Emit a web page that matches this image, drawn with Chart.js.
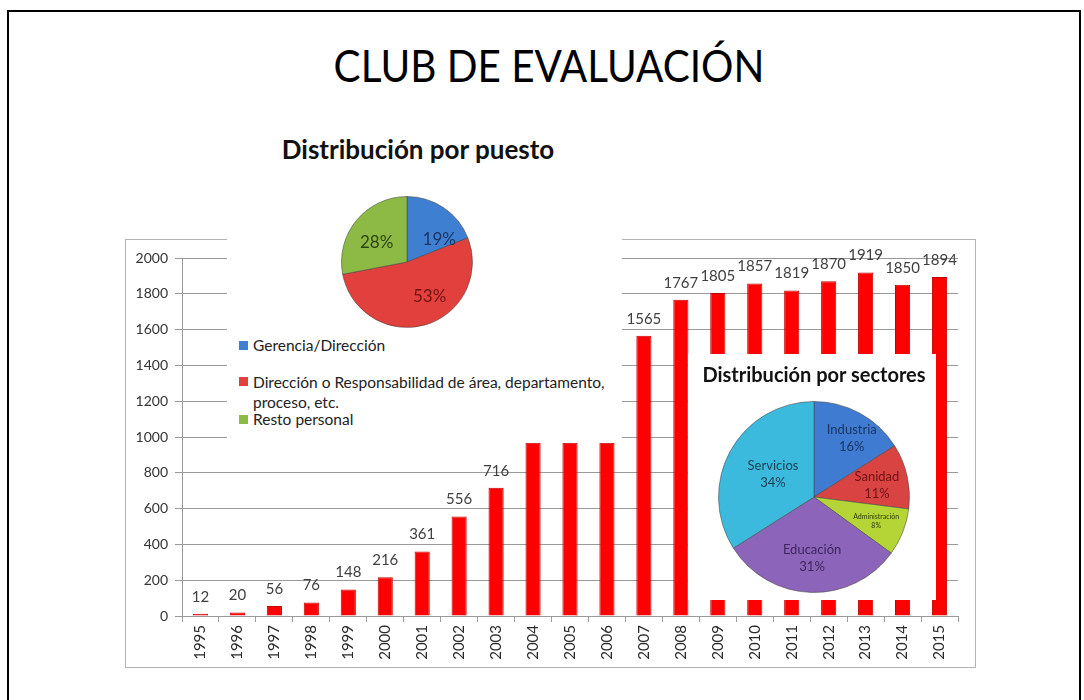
<!DOCTYPE html>
<html>
<head>
<meta charset="utf-8">
<title>Club de Evaluación</title>
<script src="https://cdn.jsdelivr.net/npm/chart.js@4/dist/chart.umd.min.js"></script>
<style>
  body { margin: 0; width: 1084px; height: 700px; overflow: hidden; position: relative; background: #fff; font-family: Lato, "Open Sans", sans-serif; color: #222; }
  #frame { position: absolute; left: 7px; top: 10px; width: 1070px; height: 720px; border: 2px solid #000; border-bottom: none; }
  #mainTitle { position: absolute; left: 0; top: 39px; width: 1084px; text-align: center; font-size: 44px; color: #000; transform: translateX(7px) scaleX(0.92); }
  #barBox { position: absolute; left: 125px; top: 239px; width: 851px; height: 429px; border: 1px solid #b4b4b4; box-sizing: border-box; }
  #barCanvas { position: absolute; left: 125px; top: 239px; }
  .panel { position: absolute; background: #fff; }
  #puestoPanel { left: 227px; top: 120px; width: 395px; height: 323px; }
  #sectorPanel { left: 688px; top: 354px; width: 248px; height: 246px; }
  .panelTitle { position: absolute; font-weight: bold; color: #111; white-space: nowrap; text-align: center; }
  .legendItem { position: absolute; left: 253px; font-size: 15.5px; color: #222; }
  .legendItem i { position: absolute; left: -14px; top: 5px; width: 9px; height: 9px; }
  canvas { position: absolute; }
</style>
</head>
<body>
<div id="frame"></div>
<div id="mainTitle">CLUB DE EVALUACIÓN</div>

<div id="barBox"></div>
<canvas id="barCanvas" width="851" height="429"></canvas>

<div class="panel" id="puestoPanel"></div>
<div class="panelTitle" style="left:238px;top:133px;width:360px;font-size:26px;">Distribución por puesto</div>
<canvas id="puestoPie" width="132" height="132" style="left:341px;top:196px;"></canvas>
<div id="puestoLegend"></div>

<div class="panel" id="sectorPanel"></div>
<div class="panelTitle" style="left:688px;top:362px;width:252px;font-size:20px;">Distribución por sectores</div>
<canvas id="sectorPie" width="192" height="192" style="left:718px;top:401px;"></canvas>

<script>
// data
const years = ['1995', '1996', '1997', '1998', '1999', '2000', '2001', '2002', '2003', '2004', '2005',
  '2006', '2007', '2008', '2009', '2010', '2011', '2012', '2013', '2014', '2015'];
const members = [12, 20, 56, 76, 148, 216, 361, 556, 716, 968, 968, 968, 1565, 1767, 1805, 1857, 1819, 1870, 1919, 1850, 1894];

const puestoLabels = ['Gerencia/Dirección', 'Dirección o Responsabilidad de área, departamento, proceso, etc.', 'Resto personal'];
const puestoPct = [19, 53, 28];

const sectorLabels = ['Industria', 'Sanidad', 'Administración', 'Educación', 'Servicios'];
const sectorPct = [16, 11, 8, 31, 34];

const yMax = 2000;
const yStep = 200;

const puestoColors = ['#3f7fd1', '#e2403d', '#8db945'];
const puestoTextColors = ['#1c3564', '#6e1212', '#2b4510'];
const sectorColors = ['#3f7bd0', '#d94442', '#b5d536', '#8c64ba', '#3cbade'];
const sectorTextColors = ['#1c3564', '#6e1212', '#2a3a08', '#3e2660', '#173f50'];

// numbers above the bars
const barValueLabels = {
  id: 'barValueLabels',
  afterDatasetsDraw(chart) {
    const ctx = chart.ctx;
    const meta = chart.getDatasetMeta(0);
    ctx.save();
    ctx.font = '15px Lato';
    ctx.fillStyle = '#404040';
    ctx.textAlign = 'center';
    ctx.textBaseline = 'middle';
    meta.data.forEach((bar, i) => {
      ctx.fillText(chart.data.datasets[0].data[i], bar.x, bar.y - 17);
    });
    ctx.restore();
  }
};

// text inside pie slices
const sliceLabels = {
  id: 'sliceLabels',
  afterDatasetsDraw(chart, args, opts) {
    const ctx = chart.ctx;
    const meta = chart.getDatasetMeta(0);
    ctx.save();
    ctx.textAlign = 'center';
    ctx.textBaseline = 'middle';
    meta.data.forEach((arc, i) => {
      const p = arc.getProps(['x', 'y', 'startAngle', 'endAngle', 'outerRadius'], true);
      const a = (p.startAngle + p.endAngle) / 2 + (opts.shifts[i] || 0) * Math.PI / 180;
      const r = p.outerRadius * opts.fracs[i];
      const cx = p.x + Math.cos(a) * r;
      const cy = p.y + Math.sin(a) * r;
      const lines = opts.lines(i);
      const size = opts.sizes[i];
      const gap = size * 1.3;
      ctx.font = size + 'px Lato';
      ctx.fillStyle = opts.colors[i];
      lines.forEach((t, k) => {
        ctx.fillText(t, cx, cy + (k - (lines.length - 1) / 2) * gap);
      });
    });
    ctx.restore();
  }
};

new Chart(document.getElementById('barCanvas'), {
  type: 'bar',
  data: {
    labels: years,
    datasets: [{
      data: members,
      backgroundColor: '#ff0000',
      borderColor: '#c40000',
      borderWidth: 1,
      categoryPercentage: 1,
      barPercentage: 0.41
    }]
  },
  options: {
    responsive: false,
    animation: false,
    layout: { padding: { top: 19, right: 18, left: 0, bottom: 0 } },
    plugins: { legend: { display: false }, tooltip: { enabled: false } },
    scales: {
      x: {
        grid: { drawOnChartArea: false, tickLength: 6, color: '#9a9a9a' },
        border: { color: '#9a9a9a' },
        ticks: { minRotation: 90, maxRotation: 90, padding: 3, color: '#2a2a2a', font: { family: 'Lato', size: 15 } },
        afterFit(s) { s.height = 52; }
      },
      y: {
        min: 0,
        max: yMax,
        grid: { color: '#9a9a9a', tickLength: 7 },
        border: { color: '#9a9a9a' },
        ticks: { stepSize: yStep, padding: 7, color: '#333', font: { family: 'Lato', size: 14 }, callback: v => String(v) },
        afterFit(s) { s.width = 57; }
      }
    }
  },
  plugins: [barValueLabels]
});

new Chart(document.getElementById('puestoPie'), {
  type: 'pie',
  data: {
    labels: puestoLabels,
    datasets: [{ data: puestoPct, backgroundColor: puestoColors, borderColor: 'rgba(70,70,70,0.55)', borderWidth: 1 }]
  },
  options: {
    responsive: false,
    animation: false,
    plugins: {
      legend: { display: false },
      tooltip: { enabled: false },
      sliceLabels: {
        lines: i => [puestoPct[i] + '%'],
        fracs: [0.6, 0.63, 0.55],
        shifts: [21, -17, -7],
        sizes: [17, 17, 17],
        colors: puestoTextColors
      }
    }
  },
  plugins: [sliceLabels]
});

new Chart(document.getElementById('sectorPie'), {
  type: 'pie',
  data: {
    labels: sectorLabels,
    datasets: [{ data: sectorPct, backgroundColor: sectorColors, borderColor: 'rgba(70,70,70,0.55)', borderWidth: 1 }]
  },
  options: {
    responsive: false,
    animation: false,
    plugins: {
      legend: { display: false },
      tooltip: { enabled: false },
      sliceLabels: {
        lines: i => [sectorLabels[i], sectorPct[i] + '%'],
        fracs: [0.73, 0.67, 0.70, 0.64, 0.49],
        shifts: [4, 2, 0, 0, 0],
        sizes: [13, 13, 7, 13, 13],
        colors: sectorTextColors
      }
    }
  },
  plugins: [sliceLabels]
});

// legend of the puesto pie, laid out like the original
const legendTops = [336, 372, 410];
const legendBox = document.getElementById('puestoLegend');
puestoLabels.forEach((name, i) => {
  const item = document.createElement('div');
  item.className = 'legendItem';
  item.style.top = legendTops[i] + 'px';
  item.style.width = '362px';
  item.style.lineHeight = i === 1 ? '20px' : 'normal';
  item.innerHTML = '<i style="background:' + puestoColors[i] + '"></i>' + name;
  legendBox.appendChild(item);
});
</script>
</body>
</html>
